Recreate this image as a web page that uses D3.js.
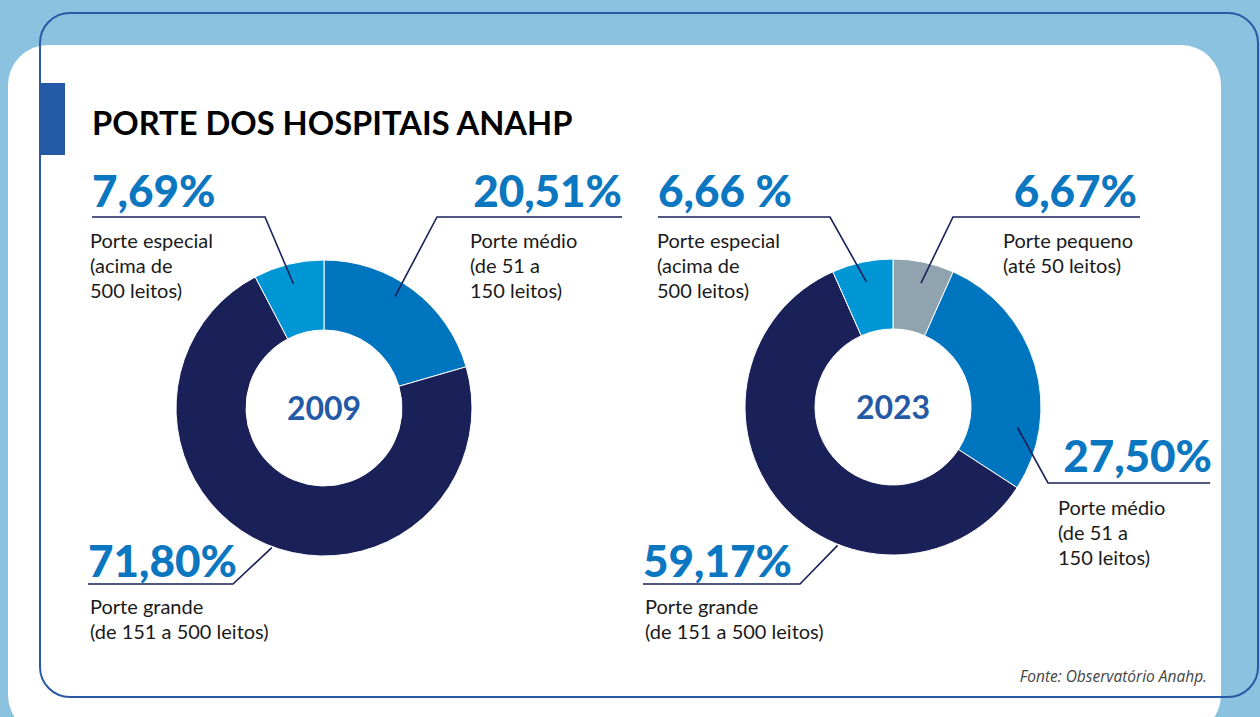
<!DOCTYPE html>
<html>
<head>
<meta charset="utf-8">
<script src="https://cdn.jsdelivr.net/npm/d3@7"></script>
<style>
  html, body { margin: 0; padding: 0; background: #8bc2e0; }
  svg { display: block; }
</style>
</head>
<body>
<div id="chart"></div>
<script>
// data
const years = ["2009", "2023"];
const slices2009 = ["Porte médio", "Porte grande", "Porte especial"];
const values2009 = [20.51, 71.80, 7.69];
const pctText2009 = ["20,51%", "71,80%", "7,69%"];
const slices2023 = ["Porte pequeno", "Porte médio", "Porte grande", "Porte especial"];
const values2023 = [6.67, 27.50, 59.17, 6.66];
const pctText2023 = ["6,67%", "27,50%", "59,17%", "6,66 %"];
const descLines = {
  "Porte especial": ["Porte especial", "(acima de", "500 leitos)"],
  "Porte médio": ["Porte médio", "(de 51 a", "150 leitos)"],
  "Porte grande": ["Porte grande", "(de 151 a 500 leitos)"],
  "Porte pequeno": ["Porte pequeno", "(até 50 leitos)"]
};
const title = "PORTE DOS HOSPITAIS ANAHP";
const source = "Fonte: Observatório Anahp.";

// styles / layout
const color = d3.scaleOrdinal()
  .domain(["Porte especial", "Porte médio", "Porte grande", "Porte pequeno"])
  .range(["#0095d4", "#0075bf", "#1a2158", "#8fa4af"]);

const W = 1260, H = 717;
const outerR = 148, innerR = 78;
const font = "Lato, 'Open Sans', sans-serif";

// label placement per slice: pct text, underline, leader target, description
const layout2009 = {
  "Porte médio":   { px: 622, py: 207, anchor: "end",   ly: 217, lx0: 437, lx1: 622, frac: 0.44, r: 132, dx: 470, dy: 248 },
  "Porte grande":  { px: 88,  py: 577, anchor: "start", ly: 584, lx0: 233, lx1: 88,  frac: 0.49, r: 149, dx: 90,  dy: 614 },
  "Porte especial":{ px: 92,  py: 207, anchor: "start", ly: 217, lx0: 265, lx1: 92,  frac: 0.5,  r: 128, dx: 90,  dy: 248 }
};
const layout2023 = {
  "Porte pequeno": { px: 1137, py: 207, anchor: "end",   ly: 217, lx0: 953,  lx1: 1140, frac: 0.53, r: 127, dx: 1003, dy: 248 },
  "Porte médio":   { px: 1212, py: 472, anchor: "end",   ly: 483, lx0: 1048, lx1: 1210, frac: 0.76, r: 126, dx: 1058, dy: 515 },
  "Porte grande":  { px: 643,  py: 577, anchor: "start", ly: 584, lx0: 800,  lx1: 643,  frac: 0.37, r: 149, dx: 645,  dy: 614 },
  "Porte especial":{ px: 658,  py: 207, anchor: "start", ly: 217, lx0: 830,  lx1: 658,  frac: 0.5,  r: 128, dx: 657,  dy: 248 }
};

const svg = d3.select("#chart").append("svg")
  .attr("width", W)
  .attr("height", H);

// background card
svg.append("rect").attr("width", W).attr("height", H).attr("fill", "#8bc2e0");
svg.append("rect")
  .attr("x", 8).attr("y", 45).attr("width", 1213).attr("height", 690)
  .attr("rx", 40).attr("fill", "#ffffff");
svg.append("rect")
  .attr("x", 40).attr("y", 13).attr("width", 1218).attr("height", 684)
  .attr("rx", 30).attr("fill", "none")
  .attr("stroke", "#2a5aa6").attr("stroke-width", 2);
svg.append("rect")
  .attr("x", 40).attr("y", 83).attr("width", 25).attr("height", 72)
  .attr("fill", "#2459a6");

svg.append("text")
  .attr("x", 92).attr("y", 135)
  .text(title)
  .style("font-family", font)
  .style("font-weight", "bold")
  .style("font-size", "32.7px")
  .style("fill", "#000");

svg.append("text")
  .attr("x", 1207).attr("y", 682)
  .attr("text-anchor", "end")
  .text(source)
  .style("font-family", "'Open Sans', 'Noto Sans', sans-serif")
  .style("font-style", "italic")
  .style("font-weight", "normal")
  .style("font-size", "15.5px")
  .style("fill", "#444");

const pie = d3.pie().sort(null).value(d => d.value);
const arc = d3.arc().innerRadius(innerR).outerRadius(outerR);

function drawDonut(year, cats, vals, pcts, layout, cx, cy) {
  const data = cats.map((c, i) => ({ key: c, value: vals[i], pct: pcts[i] }));
  const arcs = pie(data);
  const g = svg.append("g").attr("transform", `translate(${cx},${cy})`);

  g.selectAll("path.slice")
    .data(arcs)
    .join("path")
      .attr("class", "slice")
      .attr("d", arc)
      .attr("fill", d => color(d.data.key))
      .attr("stroke", "#fff")
      .attr("stroke-width", 1);

  g.append("text")
    .attr("text-anchor", "middle")
    .attr("y", 12)
    .text(year)
    .style("font-family", font)
    .style("font-weight", "bold")
    .style("font-size", "32px")
    .style("fill", "#2459a6");

  // labels
  arcs.forEach(a => {
    const L = layout[a.data.key];
    const ang = a.startAngle + L.frac * (a.endAngle - a.startAngle);
    const tx = cx + L.r * Math.sin(ang);
    const ty = cy - L.r * Math.cos(ang);

    svg.append("path")
      .attr("d", d3.line()([[tx, ty], [L.lx0, L.ly], [L.lx1, L.ly]]))
      .attr("fill", "none")
      .attr("stroke", "#1a2158")
      .attr("stroke-width", 1.6);

    svg.append("text")
      .attr("x", L.px).attr("y", L.py)
      .attr("text-anchor", L.anchor)
      .text(a.data.pct)
      .style("font-family", font)
      .style("font-weight", "900")
      .style("font-size", "44px")
      .style("fill", "#0b77c0");

    const t = svg.append("text")
      .attr("x", L.dx).attr("y", L.dy)
      .style("font-family", font)
      .style("font-size", "20px")
      .style("fill", "#1a1a1a");
    descLines[a.data.key].forEach((line, i) => {
      t.append("tspan")
        .attr("x", L.dx)
        .attr("dy", i === 0 ? 0 : 25)
        .text(line);
    });
  });
}

drawDonut(years[0], slices2009, values2009, pctText2009, layout2009, 324, 408);
drawDonut(years[1], slices2023, values2023, pctText2023, layout2023, 893, 407);
</script>
</body>
</html>
